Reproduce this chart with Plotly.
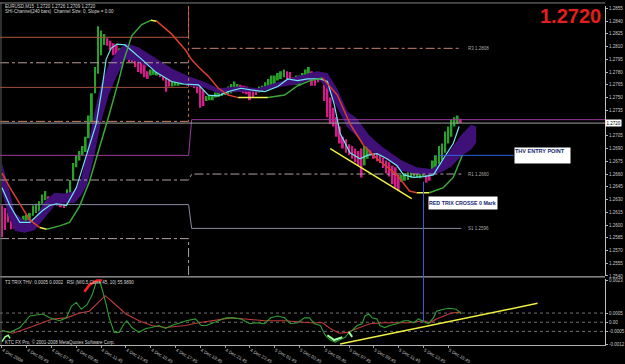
import plotly.graph_objects as go

# ------------------------------------------------------------------ data
# EURUSD M15 bars (bar 0 = 4 Dec 2008 03:45)
bar_open = [
    1.2623, 1.2620, 1.2614, 1.2605, 1.2603, 1.2600, 1.2599, 1.2603, 1.2603, 1.2605,
    1.2611, 1.2614, 1.2616, 1.2625, 1.2629, 1.2634, 1.2629, 1.2629, 1.2628, 1.2626,
    1.2625, 1.2625, 1.2636, 1.2653, 1.2668, 1.2676, 1.2682, 1.2686, 1.2702, 1.2721,
    1.2755, 1.2778, 1.2800, 1.2812, 1.2820, 1.2817, 1.2814, 1.2812, 1.2799, 1.2809,
    1.2795, 1.2806, 1.2809, 1.2800, 1.2795, 1.2792, 1.2789, 1.2781, 1.2776, 1.2777,
    1.2776, 1.2781, 1.2779, 1.2776, 1.2772, 1.2763, 1.2764, 1.2764, 1.2765, 1.2765,
    1.2770, 1.2770, 1.2772, 1.2770, 1.2764, 1.2759, 1.2746, 1.2747, 1.2747, 1.2750,
    1.2751, 1.2752, 1.2753, 1.2754, 1.2755, 1.2761, 1.2757, 1.2765, 1.2764, 1.2763,
    1.2761, 1.2759, 1.2760, 1.2756, 1.2757, 1.2760, 1.2761, 1.2764, 1.2766, 1.2770,
    1.2772, 1.2774, 1.2781, 1.2780, 1.2774, 1.2765, 1.2764, 1.2770, 1.2774, 1.2778,
    1.2781, 1.2776, 1.2774, 1.2770, 1.2772, 1.2769, 1.2750, 1.2738, 1.2727, 1.2716,
    1.2704, 1.2701, 1.2695, 1.2693, 1.2690, 1.2687, 1.2690, 1.2670, 1.2678, 1.2691,
    1.2685, 1.2685, 1.2682, 1.2679, 1.2676, 1.2674, 1.2670, 1.2668, 1.2659, 1.2651,
    1.2652, 1.2653, 1.2656, 1.2657, 1.2656, 1.2655, 1.2657, 1.2659, 1.2658, 1.2659,
    1.2665, 1.2670, 1.2676, 1.2685, 1.2696, 1.2704, 1.2716, 1.2719, 1.2725,
]
bar_close = [
    1.2586, 1.2594, 1.2603, 1.2595, 1.2596, 1.2597, 1.2595, 1.2611, 1.2612, 1.2614,
    1.2623, 1.2625, 1.2628, 1.2636, 1.2640, 1.2628, 1.2625, 1.2624, 1.2623, 1.2621,
    1.2620, 1.2642, 1.2653, 1.2673, 1.2682, 1.2687, 1.2693, 1.2704, 1.2729, 1.2755,
    1.2786, 1.2834, 1.2829, 1.2825, 1.2811, 1.2806, 1.2800, 1.2798, 1.2808, 1.2795,
    1.2806, 1.2792, 1.2792, 1.2786, 1.2780, 1.2778, 1.2774, 1.2772, 1.2783, 1.2783,
    1.2782, 1.2774, 1.2770, 1.2757, 1.2763, 1.2770, 1.2770, 1.2769, 1.2770, 1.2770,
    1.2764, 1.2763, 1.2761, 1.2755, 1.2738, 1.2740, 1.2752, 1.2753, 1.2753, 1.2756,
    1.2757, 1.2761, 1.2760, 1.2763, 1.2766, 1.2769, 1.2766, 1.2757, 1.2755, 1.2754,
    1.2747, 1.2750, 1.2753, 1.2763, 1.2764, 1.2768, 1.2772, 1.2776, 1.2776, 1.2779,
    1.2781, 1.2783, 1.2772, 1.2766, 1.2765, 1.2776, 1.2776, 1.2779, 1.2783, 1.2786,
    1.2764, 1.2764, 1.2768, 1.2774, 1.2746, 1.2727, 1.2719, 1.2716, 1.2704, 1.2696,
    1.2690, 1.2685, 1.2682, 1.2678, 1.2674, 1.2670, 1.2656, 1.2693, 1.2696, 1.2682,
    1.2678, 1.2675, 1.2673, 1.2667, 1.2661, 1.2657, 1.2648, 1.2644, 1.2640, 1.2659,
    1.2661, 1.2662, 1.2665, 1.2665, 1.2667, 1.2666, 1.2665, 1.2650, 1.2652, 1.2676,
    1.2682, 1.2693, 1.2696, 1.2710, 1.2716, 1.2724, 1.2727, 1.2729, 1.2720,
]

# fast moving average (cyan)
cyan_bar = [0, 2.56, 5.76, 8.96, 13.1, 15.4, 17.6, 20.8, 24, 27.2,
            30.4, 32.3, 33.6, 35.2, 37.1, 39.7, 42.6, 45.1, 49.6, 54.7,
            58.6, 63.4, 66.6, 69.8, 73, 77.1, 80.3, 84.8, 89, 92.2,
            95.4, 98.6, 102.7, 105, 107.2, 109.1, 112.3, 115.5, 117.8, 121,
            124.2, 127.4, 129.6, 132.8, 136, 139.2, 142.4, 145.6, 147.5]
cyan_price = [1.2644, 1.2623, 1.2603, 1.2603, 1.2617, 1.2623, 1.2625, 1.2623, 1.2644, 1.2682,
              1.2719, 1.2761, 1.2795, 1.2808, 1.2813, 1.2812, 1.2803, 1.2795, 1.2780, 1.2769,
              1.2766, 1.2765, 1.2753, 1.2752, 1.2757, 1.2761, 1.2759, 1.2757, 1.2763, 1.2772,
              1.2770, 1.2772, 1.2772, 1.2769, 1.2742, 1.2708, 1.2685, 1.2678, 1.2682, 1.2684,
              1.2678, 1.2670, 1.2659, 1.2656, 1.2657, 1.2659, 1.2678, 1.2696, 1.2716]

# slow T3 average, coloured by slope (r = falling, g = rising, y = flat)
t3_bar = [0, 2.56, 5.76, 8.96, 12.2, 14.4, 18.6, 21.8, 25, 28.2,
          31.4, 34.6, 37.8, 39.4, 41.9, 45.1, 48, 49.9, 54.7, 59.2,
          61.1, 63.4, 66.6, 69.8, 73, 76.2, 85.8, 91.2, 95.4, 99.5,
          103.4, 108.2, 112.3, 116.8, 121, 127.4, 131.5, 133.8, 137.9, 142.4,
          145.6, 148.5]
t3_price = [1.2661, 1.2644, 1.2625, 1.2606, 1.2597, 1.2595, 1.2599, 1.2603, 1.2622, 1.2651,
            1.2690, 1.2730, 1.2772, 1.2795, 1.2823, 1.2836, 1.2841, 1.2840, 1.2825, 1.2806,
            1.2795, 1.2786, 1.2775, 1.2761, 1.2753, 1.2750, 1.2750, 1.2753, 1.2764, 1.2770,
            1.2773, 1.2753, 1.2719, 1.2693, 1.2678, 1.2659, 1.2640, 1.2638, 1.2638, 1.2644,
            1.2656, 1.2682]
t3_trend = ["r", "r", "r", "r", "y", "g", "g", "g", "g", "g",
            "g", "g", "g", "g", "g", "g", "y", "r", "r", "r",
            "r", "r", "r", "r", "r", "y", "g", "g", "g", "g",
            "r", "r", "r", "r", "r", "r", "r", "y", "g", "g",
            "g", "g"]

# SHI channel ribbon (purple band)
band_bar = [0, 1.9, 4.2, 7.4, 10.6, 13.8, 17, 20.2, 23.4, 25.6,
            27.5, 29.8, 32, 34.6, 37.1, 40, 44.2, 47.4, 50.6, 55.4,
            60.2, 65, 69.8, 76.2, 82.6, 89, 95.4, 101.8, 105, 108.2,
            111.4, 114.6, 118.4, 122.6, 125.8, 129, 133.8, 138.6, 141.8, 145,
            148.2, 151.4, 153]
band_hi = [1.2673, 1.2648, 1.2614, 1.2605, 1.2608, 1.2628, 1.2638, 1.2637, 1.2640, 1.2655,
           1.2688, 1.2732, 1.2766, 1.2790, 1.2804, 1.2814, 1.2809, 1.2801, 1.2794, 1.2783,
           1.2775, 1.2769, 1.2761, 1.2763, 1.2761, 1.2768, 1.2775, 1.2781, 1.2779, 1.2760,
           1.2734, 1.2725, 1.2706, 1.2692, 1.2684, 1.2676, 1.2668, 1.2666, 1.2674, 1.2690,
           1.2706, 1.2718, 1.2716]
band_lo = [1.2640, 1.2612, 1.2593, 1.2591, 1.2594, 1.2609, 1.2623, 1.2626, 1.2626, 1.2635,
           1.2648, 1.2682, 1.2722, 1.2755, 1.2776, 1.2795, 1.2792, 1.2786, 1.2777, 1.2769,
           1.2764, 1.2762, 1.2755, 1.2757, 1.2757, 1.2762, 1.2766, 1.2773, 1.2760, 1.2738,
           1.2715, 1.2704, 1.2689, 1.2680, 1.2673, 1.2664, 1.2660, 1.2659, 1.2662, 1.2669,
           1.2681, 1.2689, 1.2697]

# pivot levels
pivot_start_bar = 60.2
prev_brown = [1.2821, 1.2762]
prev_dashdot = [1.2791, 1.2722]
prev_purple = 1.2682
prev_r = 1.2653
prev_gray = 1.2624
prev_low = 1.2584
piv_r3 = 1.2808
piv_mid = 1.2724
piv_r1 = 1.2660
piv_s1 = 1.2596
last_price = 1.2720

# annotations / drawn objects
trend_main_bar = [105.9, 132.2]
trend_main_price = [1.2690, 1.2631]
thv_entry_bar = [141, 165.1]
thv_entry_price = 1.2682
trix_cross_bar = 136
trix_cross_price = 1.2651
trix_label_price = 1.2626

# indicator window (values in units of 1e-4)
trix_fast_bar = [0, 2.6, 5.8, 9.0, 13.1, 15.4, 18.6, 20.8, 22.4, 24,
                 25.6, 27.5, 29.1, 30.4, 31.4, 32.3, 33.6, 34.6, 36.2, 37.8,
                 39.4, 40.3, 41.9, 44.2, 46.4, 48.3, 50.6, 52.8, 54.7, 57.6,
                 59.5, 62.4, 64.3, 65.9, 68.2, 70.4, 72.3, 74.6, 77.1, 80,
                 81.9, 84.8, 86.7, 89, 91.2, 93.1, 95.4, 97.6, 99.2, 100.8,
                 102.7, 104.3, 105.9, 107.5, 109.1, 110.7, 112, 113, 114.6, 116.2,
                 117.1, 118.4, 119.4, 121, 121.9, 123.5, 125.1, 127.4, 129.6, 131.2,
                 132.8, 134.4, 136, 137.6, 139.2, 140.2, 142.4, 144.3, 146.6, 148.2]
trix_fast_e4 = [-4.5, -5.5, -2.9, 3.4, 4.5, 2.4, 0.8, 2.4, 8.7, 10.8,
                7.1, 9.7, 15.0, 21.8, 22.8, 18.1, 9.7, 2.4, -5.5, -5.5,
                -0.8, 0.8, -2.9, -5.5, -3.4, -2.9, -1.8, -3.4, -1.8, -0.3,
                0.8, 1.8, -1.8, -1.8, -0.3, 0.8, 2.4, 2.4, 1.8, -0.8,
                -0.3, -0.8, 2.4, 3.4, 2.4, -0.8, -0.3, 2.4, 2.4, -0.8,
                -1.8, -7.1, -9.7, -10.8, -9.7, -8.2, -5.5, -4.5, -1.8, -0.8,
                3.4, 4.5, 2.4, 1.8, -1.8, -2.9, -1.8, -0.8, 0.8, 0.8,
                -0.3, 1.8, 0.3, -0.8, 2.4, 6.0, 7.1, 7.6, 7.1, 4.5]
trix_slow_bar = [0, 3.5, 8, 12.2, 16.3, 20.8, 25, 28.2, 31.4, 33.3,
                 35.5, 37.8, 40, 44.2, 48.3, 52.8, 59.2, 63.4, 67.5, 73.9,
                 78.4, 84.8, 91.2, 95.4, 99.5, 103.4, 105.9, 108.8, 111.4, 114.6,
                 118.7, 123.2, 127.4, 131.5, 136, 137.9, 140.2, 142.4, 145, 148.2]
trix_slow_e4 = [-4.5, -6.0, -3.4, -0.8, 1.8, 2.4, 5.0, 6.0, 11.3, 14.5,
                11.3, 7.6, 4.5, 0.8, -1.8, -2.9, -1.8, -0.3, 0.8, 2.4,
                1.8, 0.8, 0.8, 0.3, -0.3, -0.3, -3.4, -6.0, -5.5, -3.4,
                -0.8, -0.3, -0.3, -0.3, 0.8, -0.3, 1.8, 3.4, 5.0, 5.5]
trix_red_hl_bar = [26.6, 28.2, 30.7, 32.3]
trix_red_hl_e4 = [16.6, 20.3, 22.9, 22.9]
trix_lime_hl1_bar = [105, 107.2, 108.8, 109.8]
trix_lime_hl1_e4 = [-7.1, -9.7, -8.7, -8.2]
trix_lime_hl2_bar = [111.9, 113]
trix_lime_hl2_e4 = [-5.4, -8.0]
trix_arrow_bar = [0, 1, 2, 2.6]
trix_arrow_e4 = [-10.6, -8.0, -7.1, -8.8]
trix_trend_bar = [109.1, 172.8]
trix_trend_e4 = [-11.8, 10.3]
trix_levels_e4 = [5, 0, -5]

# axis labels
time_label_bars = [0, 8, 16, 24, 32, 40, 48, 56, 64, 72, 80, 88, 96, 104, 112, 120, 128, 136, 144]
time_labels = ["4 Dec 2008", "4 Dec 05:45", "4 Dec 07:45", "4 Dec 09:45", "4 Dec 11:45",
               "4 Dec 13:45", "4 Dec 15:45", "4 Dec 17:45", "4 Dec 19:45", "4 Dec 21:45",
               "4 Dec 23:45", "5 Dec 01:45", "5 Dec 03:45", "5 Dec 05:45", "5 Dec 07:45",
               "5 Dec 09:45", "5 Dec 11:45", "5 Dec 13:45", "5 Dec 15:45"]
price_tick_labels = ["1.2540", "1.2555", "1.2570", "1.2585", "1.2600", "1.2615", "1.2630",
                     "1.2645", "1.2660", "1.2675", "1.2690", "1.2705", "1.2735",
                     "1.2750", "1.2765", "1.2780", "1.2795", "1.2810", "1.2825", "1.2840",
                     "1.2855"]
ind_tick_labels = ["0.0023", "0.0005", "0.00", "-0.0005", "-0.0012"]

# ------------------------------------------------------------------ layout helpers
W, H = 625, 364
MR, MB = 15, 9
PW, PH = W - MR, H - MB


def yfrac(px):
    return (PH - px) / PH


main_dom = [yfrac(284), yfrac(4)]
ind_dom = [yfrac(355), yfrac(287)]
main_range = [1.25395, 1.2858]
ind_range = [-0.00124, 0.00234]
x_range = [-0.64, 194.56]


def main_paper(p):
    return main_dom[0] + (p - main_range[0]) / (main_range[1] - main_range[0]) * (main_dom[1] - main_dom[0])


def ind_paper(v):
    return ind_dom[0] + (v - ind_range[0]) / (ind_range[1] - ind_range[0]) * (ind_dom[1] - ind_dom[0])


E4 = 1e-4
UP, DOWN = "#27a127", "#d61c8c"
FONT = "Liberation Sans"
BAND = "#3e1078"

fig = go.Figure()

# purple ribbon
fig.add_trace(go.Scatter(x=band_bar, y=band_hi, mode="lines", line=dict(width=0, color=BAND),
                         hoverinfo="skip"))
fig.add_trace(go.Scatter(x=band_bar, y=band_lo, mode="lines", line=dict(width=0, color=BAND),
                         fill="tonexty", fillcolor=BAND, hoverinfo="skip"))

# pivot lines
n_bars = len(bar_open)
piv_end = n_bars - 1 + 0.2
x0 = x_range[0]
sb = pivot_start_bar
sb2 = sb + 1.0


def line(xs, ys, color, dash="solid", width=1):
    fig.add_trace(go.Scatter(x=xs, y=ys, mode="lines", line=dict(color=color, dash=dash, width=width),
                             hoverinfo="skip"))


line([x0, sb, sb], [prev_brown[0], prev_brown[0], main_range[1]], "#b0553f")
line([x0, sb], [prev_brown[1], prev_brown[1]], "#a0503c")
line([x0, sb], [prev_dashdot[0], prev_dashdot[0]], "#b89a9a", "dashdot")
line([x0, sb], [prev_dashdot[1], prev_dashdot[1]], "#c88060", "dashdot")
line([sb, sb], [main_range[1], prev_dashdot[1]], "#c87040", "dot")
line([x0, sb, sb2, x_range[1]], [prev_purple, prev_purple, piv_mid, piv_mid], "#9c3c9c")
line([x0, sb, sb2, piv_end], [prev_r, prev_r, piv_r1, piv_r1], "#b0a0a0", "dashdot")
line([x0, sb, sb2, piv_end], [prev_gray, prev_gray, piv_s1, piv_s1], "#8a8aa2")
line([x0, sb, sb], [prev_low, prev_low, main_range[0]], "#b0a0a0", "dashdot")
line([sb2, piv_end], [piv_r3, piv_r3], "#c88070", "dashdot")
line([x0, x_range[1]], [last_price, last_price], "#a0a0a0")

# bars
bar_base = [min(o, c) for o, c in zip(bar_open, bar_close)]
bar_len = [max(abs(c - o), 0.00004) for o, c in zip(bar_open, bar_close)]
bar_col = [UP if c >= o else DOWN for o, c in zip(bar_open, bar_close)]
fig.add_trace(go.Bar(x=list(range(n_bars)), y=bar_len, base=bar_base, width=0.62,
                     marker=dict(color=bar_col, line=dict(width=0)), hoverinfo="skip"))

# fast MA
line(cyan_bar, cyan_price, "#6fe6f2", width=1.2)

# T3 coloured segments
t3_colors = {"r": "#d8402a", "g": "#3aa83a", "y": "#f0f050"}
k = 0
while k < len(t3_bar) - 1:
    c = t3_trend[k]
    j = k
    while j < len(t3_bar) - 1 and t3_trend[j] == c:
        j += 1
    line(t3_bar[k:j + 1], t3_price[k:j + 1], t3_colors[c], width=1.5)
    k = j

# trend line and entry level
line(trend_main_bar, trend_main_price, "#f0f040", width=1.5)
line(thv_entry_bar, [thv_entry_price, thv_entry_price], "#2f62d8", width=1)

# ---------------- indicator window
for lv in trix_levels_e4:
    fig.add_trace(go.Scatter(x=[x_range[0], x_range[1]], y=[lv * E4, lv * E4], mode="lines",
                             line=dict(color="#707070", dash="dot", width=1),
                             xaxis="x2", yaxis="y2", hoverinfo="skip"))


def iline(xs, ys, color, width=1):
    fig.add_trace(go.Scatter(x=xs, y=[v * E4 for v in ys], mode="lines",
                             line=dict(color=color, width=width), xaxis="x2", yaxis="y2",
                             hoverinfo="skip"))


iline(trix_slow_bar, trix_slow_e4, "#c03a3a", 1.1)
iline(trix_fast_bar, trix_fast_e4, "#2f9e2f", 1.1)
iline(trix_red_hl_bar, trix_red_hl_e4, "#ff2020", 2.5)
iline(trix_lime_hl1_bar, trix_lime_hl1_e4, "#a0ffa0", 2)
iline(trix_lime_hl2_bar, trix_lime_hl2_e4, "#a0ffa0", 2)
iline(trix_arrow_bar, trix_arrow_e4, "#90ff90", 1.5)
iline(trix_trend_bar, trix_trend_e4, "#f0f040", 1.5)

# ------------------------------------------------------------------ layout
tickfont = dict(family=FONT, size=4.5, color="#c8c8c8")
fig.update_layout(
    width=W, height=H,
    margin=dict(l=0, r=MR, t=0, b=MB),
    paper_bgcolor="#000000", plot_bgcolor="#000000",
    showlegend=False,
    xaxis=dict(domain=[0, 1], range=x_range, anchor="y", showticklabels=False, ticks="",
               showgrid=False, zeroline=False, showline=False),
    xaxis2=dict(domain=[0, 1], range=x_range, anchor="y2", tickvals=time_label_bars,
                ticktext=time_labels, ticks="outside", ticklen=2, tickcolor="#a0a0a0",
                ticklabelposition="outside right", tickfont=tickfont,
                showline=True, linecolor="#b0b0b0", linewidth=1, showgrid=False, zeroline=False),
    yaxis=dict(domain=main_dom, range=main_range, side="right", anchor="x",
               tickvals=[float(t) for t in price_tick_labels], ticktext=price_tick_labels,
               ticks="outside", ticklen=2, tickcolor="#b0b0b0", tickfont=tickfont,
               showline=True, linecolor="#c0c0c0", linewidth=1, showgrid=False, zeroline=False),
    yaxis2=dict(domain=ind_dom, range=ind_range, side="right", anchor="x2",
                tickvals=[float(t) for t in ["0.0023", "0.0005", "0", "-0.0005", "-0.0012"]],
                ticktext=ind_tick_labels, ticks="outside", ticklen=2, tickcolor="#b0b0b0",
                tickfont=tickfont, showline=True, linecolor="#c0c0c0", linewidth=1,
                showgrid=False, zeroline=False),
)

shapes = [
    dict(type="line", xref="paper", yref="paper", x0=0, x1=1, y0=yfrac(1), y1=yfrac(1),
         line=dict(color="#808080", width=1)),
    dict(type="line", xref="paper", yref="paper", x0=0, x1=1, y0=yfrac(284.5), y1=yfrac(284.5),
         line=dict(color="#d0d0d0", width=1)),
    dict(type="line", xref="paper", yref="paper", x0=1 / PW, x1=1 / PW, y0=0, y1=1,
         line=dict(color="#606060", width=1)),
    dict(type="line", xref="x", yref="paper", x0=trix_cross_bar, x1=trix_cross_bar,
         y0=ind_paper(0.0), y1=main_paper(trix_cross_price), line=dict(color="#2f62d8", width=1)),
]
fig.update_layout(shapes=shapes)

small = dict(family=FONT, size=4.5, color="#d8d8d8")
ann = [
    dict(xref="paper", yref="paper", x=3 / PW, y=yfrac(4.5), xanchor="left", yanchor="middle",
         text="EURUSD,M15  1.2720 1.2726 1.2709 1.2720", showarrow=False, font=small),
    dict(xref="paper", yref="paper", x=3 / PW, y=yfrac(9.5), xanchor="left", yanchor="middle",
         text="SHI-Channel(240 bars)  Channel Size: 0, Slope = 0.00", showarrow=False, font=small),
    dict(xref="paper", yref="paper", x=608 / PW, y=yfrac(14), xanchor="right", yanchor="middle",
         text="<b>%.4f</b>" % last_price, showarrow=False,
         font=dict(family=FONT, size=20, color="#e41e1e")),
    dict(xref="paper", yref="y", x=1.0, y=last_price, xanchor="left", yanchor="middle",
         text="%.4f" % last_price, showarrow=False, bgcolor="#ffffff", borderpad=0.5,
         font=dict(family=FONT, size=4.5, color="#000000")),
    dict(xref="paper", yref="paper", x=3 / PW, y=yfrac(290.5), xanchor="left", yanchor="middle",
         text="T3 TRIX THV: 0.0005 0.0002   RSI (M/0.5,Close,45, 10) 55.9890", showarrow=False,
         font=small),
    dict(xref="paper", yref="paper", x=3 / PW, y=yfrac(352), xanchor="left", yanchor="middle",
         text="KTC FX Pro, © 2001-2008 MetaQuotes Software Corp.", showarrow=False, font=small),
    dict(xref="x", yref="y", x=thv_entry_bar[1], y=thv_entry_price, xanchor="left", yanchor="middle",
         text="<b>THV ENTRY POINT</b>", showarrow=False, bgcolor="#ffffff", width=55, height=15,
         align="left", valign="top", borderpad=0,
         font=dict(family=FONT, size=5.5, color="#14286e")),
    dict(xref="x", yref="y", x=trix_cross_bar + 1.3, y=trix_label_price, xanchor="left",
         yanchor="middle", text="<b>RED TRIX CROSSE 0 Mark</b>", showarrow=False,
         bgcolor="#ffffff", width=68, height=12, align="left", valign="middle", borderpad=0,
         font=dict(family=FONT, size=5.3, color="#14286e")),
]
for name, lv in (("R3", piv_r3), ("R1", piv_r1), ("S1", piv_s1)):
    ann.append(dict(xref="x", yref="y", x=piv_end + 1.6, y=lv, xanchor="left", yanchor="middle",
                    text="%s %.4f" % (name, lv), showarrow=False,
                    font=dict(family=FONT, size=4.5, color="#a8a8a8")))
fig.update_layout(annotations=ann)

fig.write_html("out.html", config={"displayModeBar": False})
